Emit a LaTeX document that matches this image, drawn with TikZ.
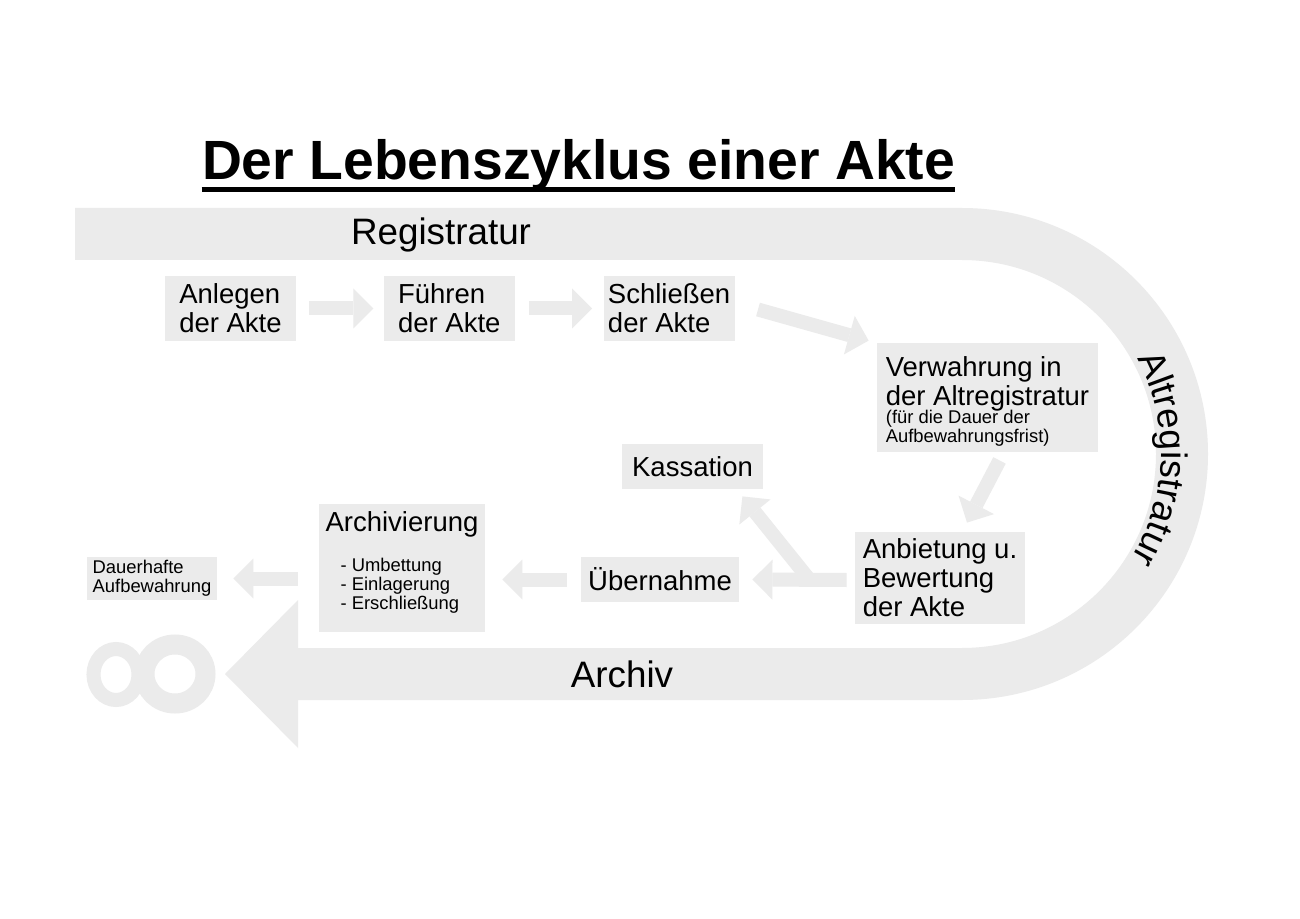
\documentclass[tikz,border=0pt]{standalone}
\usepackage{fontspec}
\setmainfont{Liberation Sans}
\usepackage{tikz}
\usetikzlibrary{arrows.meta, positioning, calc, decorations.text}
\definecolor{bandgray}{RGB}{235, 235, 235}
\newcommand{\cycletitlefont}{\bfseries\fontsize{27.65pt}{30pt}\selectfont}
\newcommand{\cyclebandfont}{\fontsize{18.4pt}{20pt}\selectfont}
\newcommand{\cycleboxfont}{\fontsize{13.75pt}{14.5pt}\selectfont}
\newcommand{\cyclenotefont}{\fontsize{9.2pt}{9.5pt}\selectfont}

\begin{document}
\begin{tikzpicture}[
    x=0.5pt, y=-0.5pt,
    box/.style={fill=bandgray, inner sep=0pt, align=left, font=\cycleboxfont},
    band/.style={font=\cyclebandfont},
    flow/.style={draw=bandgray, line width=7pt,
                 -{Triangle[length=10pt, width=20pt, line width=0pt]}},
]
    \fill[white] (0,0) rectangle (1300,919);
    \useasboundingbox (0,0) rectangle (1300,919);

    \draw[bandgray, line width=26pt] (75,234) -- (962,234)
        arc[start angle=90, end angle=-90, radius=110pt] -- (298,674);
    \fill[bandgray] (298,600) -- (225,674) -- (298,748) -- cycle;
    \draw[bandgray, line width=7pt] (116,674.5) ellipse[x radius=22.5, y radius=25.5];
    \draw[bandgray, line width=10pt] (175,674) ellipse[x radius=30.5, y radius=29.5];

    \node[font=\cycletitlefont, inner sep=0pt, anchor=base] (title) at (578.5,180)
        {Der Lebenszyklus einer Akte};
    \draw[line width=2.5pt] ([yshift=-4.75pt]title.base west)
        -- ([yshift=-4.75pt]title.base east);

    \node[band] (registratur) at (441,235) {Registratur};
    \node[band] (archiv) at (622,674) {Archiv};
    \path[decorate, decoration={text along path, text align=center,
          text={|\cyclebandfont|Altregistratur}}]
        (962,454) ++(38:99.5pt) arc[start angle=38, end angle=-41, radius=99.5pt];

    \node[box, minimum width=65.5pt, minimum height=32.5pt] (anlegen)
        at (230.5,308.5) {Anlegen\\der Akte};
    \node[box, minimum width=65.5pt, minimum height=32.5pt, right=43.5pt of anlegen]
        (fuehren) {Führen\\der Akte};
    \node[box, minimum width=65.5pt, minimum height=32.5pt, right=44pt of fuehren]
        (schliessen) {Schließen\\der Akte};
    \node[box, minimum width=110.5pt, minimum height=54.5pt] (verwahrung)
        at (987.5,397.5) {\rule{0pt}{14pt}Verwahrung in\\der Altregistratur\\[-5.5pt]
        {\cyclenotefont(für die Dauer der}\\[-5pt]
        {\cyclenotefont Aufbewahrungsfrist)}};
    \node[box, minimum width=85pt, minimum height=46pt] (anbietung)
        at (940,578) {Anbietung u.\\Bewertung\\der Akte};
    \node[box, minimum width=70.5pt, minimum height=22.5pt] (kassation)
        at (692.5,466.5) {Kassation};
    \node[box, minimum width=79pt, minimum height=22.5pt] (uebernahme)
        at (660,579.5) {Übernahme};
    \node[box, minimum width=83pt, minimum height=64pt] (archivierung)
        at (402,568) {Archivierung\\[5.5pt]
        {\cyclenotefont\hspace*{7.5pt}- Umbettung}\\[-5pt]
        {\cyclenotefont\hspace*{7.5pt}- Einlagerung}\\[-5pt]
        {\cyclenotefont\hspace*{7.5pt}- Erschließung\rule[-7pt]{0pt}{7pt}}};
    \node[box, font=\cyclenotefont, minimum width=65pt, minimum height=21.5pt]
        (dauerhaft) at (152,578.5) {Dauerhafte\\Aufbewahrung};

    \draw[flow, shorten <=6.5pt, shorten >=5pt] (anlegen) -- (fuehren);
    \draw[flow, shorten <=7pt, shorten >=5.5pt] (fuehren) -- (schliessen);
    \draw[flow] ($(schliessen.east)+(23,1)$) -- ($(verwahrung.north west)+(-8,-2)$);
    \draw[flow] ($(verwahrung.south)+(12,8)$) -- ($(anbietung.north)+(27,-9)$);
    \draw[flow] ($(anbietung.west)+(-8,2)$) -- ($(uebernahme.east)+(13,0)$);
    \coordinate (branch) at ($(anbietung.west)+(-45,2)$);
    \draw[flow] (branch) -- ($(kassation.south east)+(-21,7)$);
    \draw[flow, shorten <=7pt, shorten >=8.5pt] (uebernahme.west)
        -- (uebernahme.west -| archivierung.east);
    \draw[flow, shorten <=10.5pt, shorten >=8pt] (archivierung.west |- dauerhaft.east)
        -- (dauerhaft.east);
\end{tikzpicture}
\end{document}
